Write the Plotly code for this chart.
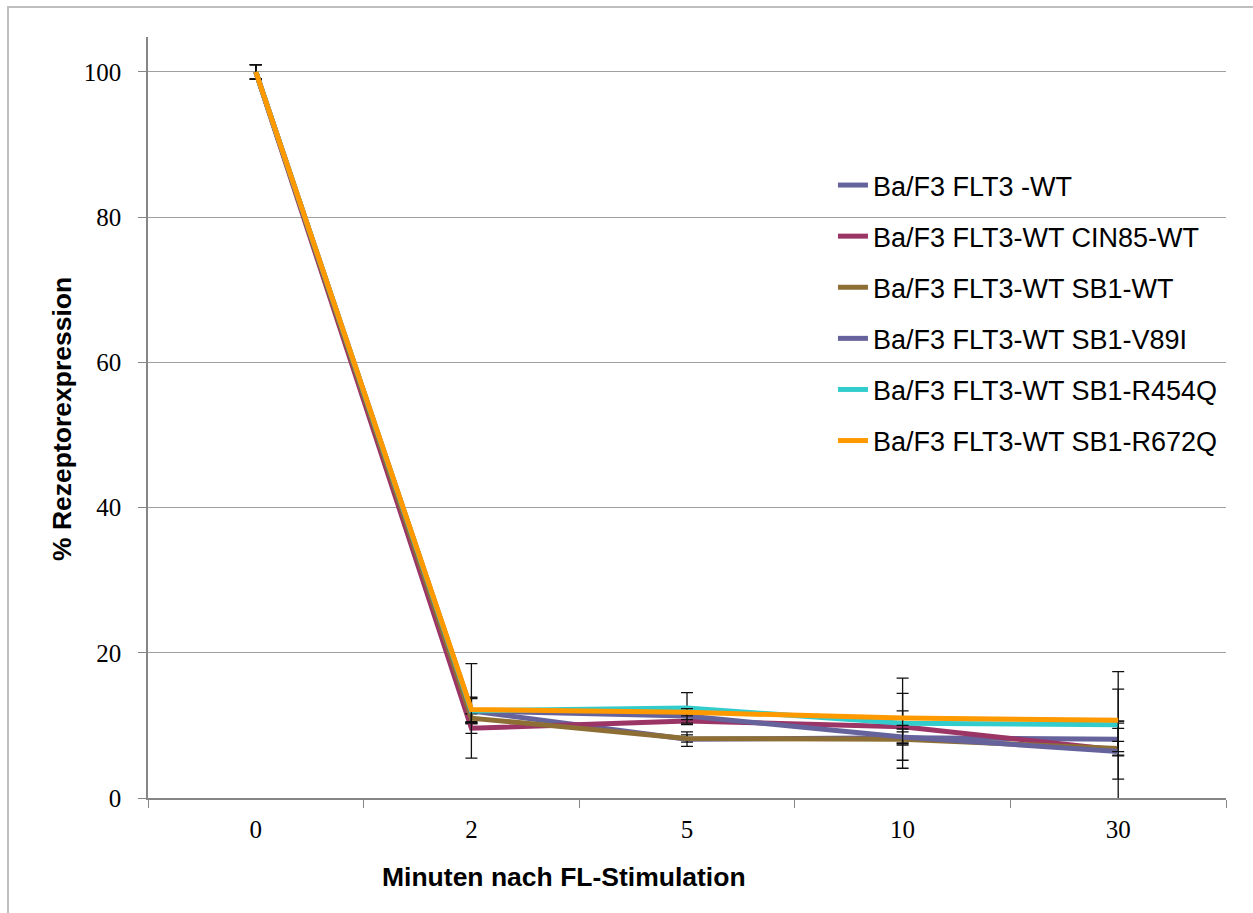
import plotly.graph_objects as go

categories = ["0", "2", "5", "10", "30"]

series_names = [
    "Ba/F3 FLT3 -WT",
    "Ba/F3 FLT3-WT CIN85-WT",
    "Ba/F3 FLT3-WT SB1-WT",
    "Ba/F3 FLT3-WT SB1-V89I",
    "Ba/F3 FLT3-WT SB1-R454Q",
    "Ba/F3 FLT3-WT SB1-R672Q",
]

flt3_wt = [100, 12.0, 8.1, 8.3, 8.1]
cin85_wt = [100, 9.6, 10.6, 9.8, 6.6]
sb1_wt = [100, 11.0, 8.2, 8.1, 6.8]
sb1_v89i = [100, 12.0, 11.3, 8.4, 6.4]
sb1_r454q = [100, 12.0, 12.4, 10.3, 10.1]
sb1_r672q = [100, 12.2, 11.8, 11.0, 10.7]

err_flt3_wt = [1.0, 1.8, 1.0, 0.8, 2.2]
err_cin85_wt = [1.0, 0.7, 0.5, 4.6, 4.0]
err_sb1_wt = [1.0, 0.6, 0.5, 0.5, 1.0]
err_sb1_v89i = [1.0, 1.7, 0.5, 1.1, 11.0]
err_sb1_r454q = [1.0, 6.5, 2.1, 6.2, 0.5]
err_sb1_r672q = [1.0, 1.7, 0.5, 1.0, 4.3]

values = [flt3_wt, cin85_wt, sb1_wt, sb1_v89i, sb1_r454q, sb1_r672q]
errors = [err_flt3_wt, err_cin85_wt, err_sb1_wt, err_sb1_v89i, err_sb1_r454q, err_sb1_r672q]
colors = ["#66639C", "#9B3566", "#8D6E34", "#66639C", "#33CCCC", "#FF9900"]

fig = go.Figure()
for i, (name, vals, errs, col) in enumerate(zip(series_names, values, errors, colors)):
    fig.add_trace(go.Scatter(
        x=categories, y=vals, name=name, mode="lines",
        line=dict(color=col, width=5),
        legendgroup=f"g{i}",
        error_y=dict(type="data", array=errs, visible=True, color="#111111", thickness=1.3, width=6),
    ))

fig.update_layout(
    width=1253, height=913,
    margin=dict(l=148, r=27, t=37, b=115),
    paper_bgcolor="white", plot_bgcolor="white",
    showlegend=True,
    legend=dict(
        x=0.6354, y=(798 - 161) / 761, xanchor="left", yanchor="top",
        font=dict(family="Liberation Sans, Arial", size=27, color="black"),
        bgcolor="rgba(0,0,0,0)", tracegroupgap=13,
    ),
    xaxis=dict(
        type="category", range=[-0.5, 4.5],
        showline=True, linecolor="#868686", linewidth=1.5,
        ticks="outside", tickson="boundaries", ticklen=8, tickcolor="#868686",
        showgrid=False,
        tickfont=dict(family="Liberation Serif, Times New Roman", size=25, color="black"),
        ticklabelstandoff=8,
    ),
    yaxis=dict(
        range=[0, 104.8], tickvals=[0, 20, 40, 60, 80, 100],
        showline=True, linecolor="#868686", linewidth=1.5,
        ticks="outside", ticklen=8, tickcolor="#868686",
        showgrid=True, gridcolor="#A0A0A0", gridwidth=1,
        zeroline=False,
        tickfont=dict(family="Liberation Serif, Times New Roman", size=25, color="black"),
        ticklabelstandoff=12,
    ),
    annotations=[
        dict(text="<b>Minuten nach FL-Stimulation</b>", xref="paper", yref="paper",
             x=(564 - 148) / 1078, y=(798 - 877) / 761, xanchor="center", yanchor="middle",
             showarrow=False, font=dict(family="Liberation Sans, Arial", size=26.5, color="black")),
        dict(text="<b>% Rezeptorexpression</b>", xref="paper", yref="paper",
             x=(62 - 148) / 1078, y=(798 - 419) / 761, xanchor="center", yanchor="middle",
             textangle=-90, showarrow=False,
             font=dict(family="Liberation Sans, Arial", size=26.5, color="black")),
    ],
    shapes=[
        dict(type="rect", xref="paper", yref="paper",
             x0=(8 - 148) / 1078, x1=(1270 - 148) / 1078,
             y0=(798 - 930) / 761, y1=(798 - 7) / 761,
             line=dict(color="#BFBFBF", width=2), fillcolor="rgba(0,0,0,0)", layer="below"),
    ],
)

fig.write_html("out.html")
